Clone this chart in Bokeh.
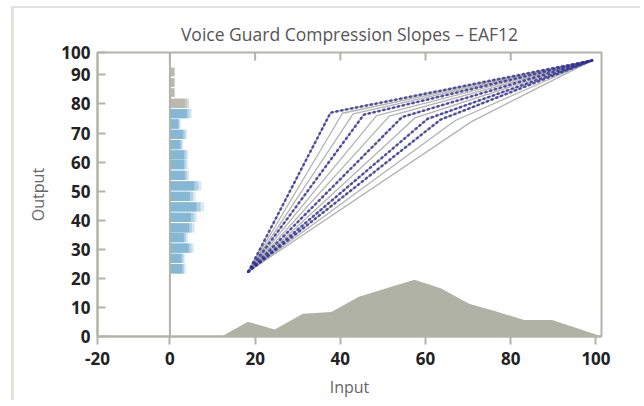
import math
from bokeh.plotting import figure
from bokeh.models import Range1d, FixedTicker, Span, ColumnDataSource
from bokeh.embed import file_html
from bokeh.resources import INLINE

# ---------------- data ----------------
title_text = "Voice Guard Compression Slopes – EAF12"
x_lo, x_hi = -17, 101.3
y_lo, y_hi = 0, 97.7
x_ticks = [x_lo, 0, 20, 40, 60, 80, 100]
x_tick_labels = {x_lo: "-20"}
y_ticks = [0, 10, 20, 30, 40, 50, 60, 70, 80, 90, y_hi]
y_tick_labels = {y_hi: "100"}
top_ticks = [0, 20, 40, 60, 80]

# histogram of output levels (horizontal bars starting at input 0)
hist_y = [23.3, 26.9, 30.4, 34.0, 37.4, 41.0, 44.6, 48.2, 51.8, 55.4,
          59.1, 62.5, 66.0, 69.5, 73.1, 76.7, 80.2, 83.9, 87.4, 91.0]
hist_len = [3.7, 3.5, 5.6, 4.2, 5.8, 6.3, 8.0, 6.0, 7.4, 4.5,
            4.2, 4.3, 3.1, 4.0, 2.5, 5.1, 4.5, 1.2, 1.2, 1.2]
hist_limit = 78.5  # bins above this are the saturated (grey) ones

# input level distribution (area at bottom)
area_x = [12.1, 18.3, 24.6, 31.2, 37.9, 44.2, 51.0, 57.4, 63.7, 70.2, 76.6, 83.1, 89.7, 101.5]
area_y = [0.0, 5.1, 2.4, 7.8, 8.4, 13.6, 16.7, 19.5, 16.5, 11.3, 8.6, 5.7, 5.7, 0.0]

# compression slopes: start -> knee -> end
start_pt = (18.4, 22.3)
end_pt = (99.1, 95.0)
knee_x = [37.7, 40.5, 43.0, 45.5, 48.5, 51.5, 54.5, 57.5, 60.5, 63.5, 67.0, 70.9]
knee_y = [77.0, 76.8, 76.6, 76.3, 76.0, 75.8, 75.5, 75.2, 74.9, 74.6, 74.3, 74.0]
measured = [0, 3, 6, 8, 9]  # slopes carrying measured points

# ---------------- styles ----------------
FONT = "Open Sans"
AXIS_C = "#b3b3a7"
TICK_LABEL_C = "#222222"
BOX_C = "#e2e2de"

p = figure(width=640, height=400, output_backend="svg", toolbar_location=None,
           x_range=Range1d(x_lo, x_hi), y_range=Range1d(y_lo, y_hi),
           min_border_left=97, min_border_right=39, min_border_top=52, min_border_bottom=59)

# outer light box (left and top rules) behind a transparent border area
p.border_fill_color = None
p.styles = {
    "background-color": "white",
    "background-image": f"linear-gradient({BOX_C},{BOX_C}), linear-gradient({BOX_C},{BOX_C})",
    "background-size": "3px 100%, 100% 2px",
    "background-position": "11px 6px, 11px 6px",
    "background-repeat": "no-repeat",
}

p.title.text = title_text
p.title.align = "center"
p.title.text_font = FONT
p.title.text_font_size = "17.5px"
p.title.text_font_style = "normal"
p.title.text_color = "#555555"
p.title.standoff = 13

p.outline_line_color = AXIS_C
p.outline_line_width = 2
p.xgrid.visible = False
p.ygrid.visible = False
p.background_fill_color = "white"

# axes
xa = p.xaxis[0]
xa.ticker = FixedTicker(ticks=x_ticks)
xa.major_label_overrides = x_tick_labels
xa.axis_label = "Input"
ya = p.yaxis[0]
ya.ticker = FixedTicker(ticks=y_ticks)
ya.major_label_overrides = y_tick_labels
ya.axis_label = "Output"
for ax in (xa, ya):
    ax.axis_line_color = AXIS_C
    ax.axis_line_width = 2
    ax.major_tick_line_color = AXIS_C
    ax.major_tick_line_width = 2
    ax.minor_tick_line_color = None
    ax.major_label_text_font = FONT
    ax.major_label_text_font_size = "17px"
    ax.major_label_text_font_style = "bold"
    ax.major_label_text_color = TICK_LABEL_C
    ax.axis_label_text_font = FONT
    ax.axis_label_text_font_size = "16px"
    ax.axis_label_text_font_style = "normal"
    ax.axis_label_text_color = "#666666"
xa.major_tick_in = 0
xa.major_tick_out = 8
xa.major_label_standoff = 7
xa.axis_label_standoff = 8
ya.major_tick_in = 8
ya.major_tick_out = 0
ya.major_label_standoff = 7
ya.axis_label_standoff = 9

# inward ticks along the top edge
p.scatter(x=top_ticks, y=[y_hi] * len(top_ticks), marker="dash", angle=math.pi / 2,
          size=16, line_color=AXIS_C, line_width=2)

# input distribution
p.varea(x=area_x, y1=[0] * len(area_x), y2=area_y, fill_color="#b1b2a6", fill_alpha=1)

# zero line
p.add_layout(Span(location=0, dimension="height", line_color=AXIS_C, line_width=2))

# histogram, with a stepped fade toward the bar end
is_sat = [v > hist_limit for v in hist_y]
hist_h = [2.9 if v > hist_limit + 3 else 3.2 for v in hist_y]
fades = [(1.0, "#d8e9f3", "#dcdcd6"), (0.9, "#b0d1e5", "#cacac2"), (0.78, "#86b7d5", "#b9b9af")]
for frac, blue, grey in fades:
    src = ColumnDataSource(dict(
        y=hist_y,
        right=[v * frac for v in hist_len],
        c=[grey if s else blue for s in is_sat],
        h=hist_h))
    p.hbar(y="y", left=0, right="right", height="h", fill_color="c", line_color=None, source=src)

# slopes
xs = [[start_pt[0], kx, end_pt[0]] for kx in knee_x]
ys = [[start_pt[1], ky, end_pt[1]] for ky in knee_y]
p.multi_line(xs=xs, ys=ys, line_color="#9a9a9a", line_width=1.3, line_alpha=0.75)
p.multi_line(xs=[xs[i] for i in measured], ys=[ys[i] for i in measured],
             line_color="#30309a", line_width=2.6, line_alpha=0.8,
             line_dash="1 4", line_cap="round")

open("out.html", "w").write(file_html(p, INLINE))
